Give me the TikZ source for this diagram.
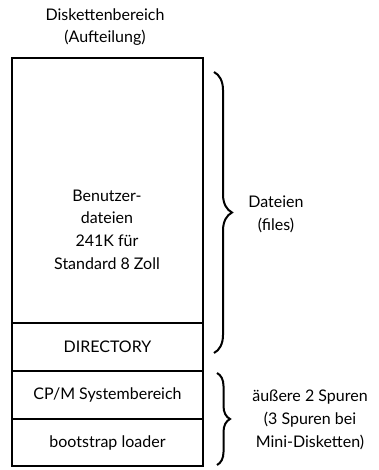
\documentclass[tikz,border=0pt]{standalone}
\usepackage{fontspec}
\setmainfont{Lato}
\usetikzlibrary{positioning,decorations.pathreplacing}

\begin{document}
\begin{tikzpicture}[x=1pt,y=-1pt,
  cell/.style={draw,line width=1.2pt,minimum width=191pt,inner sep=0pt,
               outer sep=0pt,font=\fontsize{16}{22.7}\selectfont},
  txt/.style={align=center,font=\fontsize{16}{22.7}\selectfont},
  curly/.style={decorate,decoration={brace,amplitude=#1},line width=2pt}
]
\useasboundingbox (0,0) rectangle (379,470);
\node[cell,minimum height=265pt,anchor=north west] (files) at (12,58) {};
\node[cell,minimum height=48pt,below=0pt of files] (dir) {DIRECTORY};
\node[cell,minimum height=48pt,below=0pt of dir] (cpm) {CP/M Systembereich};
\node[cell,minimum height=47pt,below=0pt of cpm] (boot) {bootstrap loader};
\node[txt] (title) at (105,27) {Diskettenbereich\\(Aufteilung)};
\node[txt] (user) at (107,229.5) {Benutzer-\\dateien\\241K für\\Standard 8 Zoll};
\node[txt] (dateien) at (276,214) {Dateien\\(files)};
\node[txt] (spuren) at (310,420) {äußere 2 Spuren\\(3 Spuren bei\\Mini-Disketten)};
\draw[curly=18pt] ([xshift=11pt,yshift=-14pt]files.north east) -- ([xshift=11pt,yshift=18pt]dir.south east);
\draw[curly=13pt] ([xshift=14pt,yshift=-2pt]cpm.north east) -- ([xshift=14pt,yshift=1pt]boot.south east);
\end{tikzpicture}
\end{document}
